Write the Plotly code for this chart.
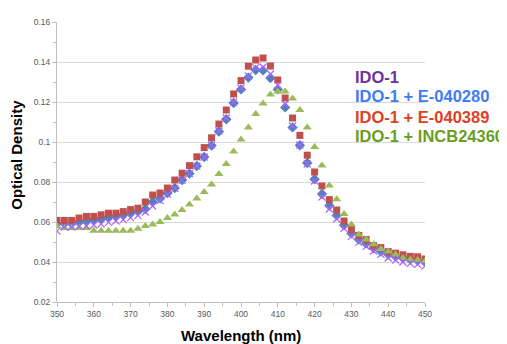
import plotly.graph_objects as go

wavelength = list(range(350, 451, 2))

ido1 = [0.0554, 0.0575, 0.0575, 0.0578, 0.0580, 0.0585, 0.0590, 0.0598, 0.0605, 0.0612,
        0.0622, 0.0633, 0.0650, 0.0680, 0.0707, 0.0738, 0.0768, 0.0808, 0.0842, 0.0880,
        0.0925, 0.0985, 0.1055, 0.1120, 0.1200, 0.1270, 0.1330, 0.1372, 0.1375, 0.1340,
        0.1285, 0.1190, 0.1080, 0.0985, 0.0890, 0.0805, 0.0725, 0.0665, 0.0615, 0.0568,
        0.0528, 0.0498, 0.0478, 0.0455, 0.0438, 0.0420, 0.0410, 0.0400, 0.0393, 0.0388,
        0.0380]

e040280 = [0.0592, 0.0592, 0.0592, 0.0600, 0.0605, 0.0611, 0.0616, 0.0625, 0.0628, 0.0636,
           0.0644, 0.0652, 0.0665, 0.0700, 0.0718, 0.0745, 0.0770, 0.0810, 0.0842, 0.0880,
           0.0925, 0.0982, 0.1052, 0.1114, 0.1195, 0.1263, 0.1322, 0.1360, 0.1358, 0.1320,
           0.1263, 0.1173, 0.1073, 0.0984, 0.0895, 0.0814, 0.0740, 0.0682, 0.0633, 0.0584,
           0.0543, 0.0512, 0.0493, 0.0470, 0.0452, 0.0437, 0.0428, 0.0420, 0.0412, 0.0407,
           0.0400]

e040389 = [0.0608, 0.0608, 0.0608, 0.0620, 0.0628, 0.0628, 0.0636, 0.0644, 0.0644, 0.0652,
           0.0662, 0.0669, 0.0700, 0.0735, 0.0745, 0.0770, 0.0810, 0.0844, 0.0882, 0.0926,
           0.0972, 0.1021, 0.1090, 0.1160, 0.1240, 0.1307, 0.1379, 0.1410, 0.1420, 0.1380,
           0.1310, 0.1220, 0.1120, 0.1033, 0.0934, 0.0850, 0.0780, 0.0712, 0.0660, 0.0605,
           0.0563, 0.0533, 0.0512, 0.0482, 0.0472, 0.0452, 0.0444, 0.0436, 0.0428, 0.0426,
           0.0415]

incb24360 = [0.0580, 0.0570, 0.0570, 0.0570, 0.0570, 0.0556, 0.0556, 0.0556, 0.0556, 0.0556,
             0.0556, 0.0566, 0.0580, 0.0588, 0.0600, 0.0620, 0.0637, 0.0660, 0.0687, 0.0718,
             0.0750, 0.0788, 0.0840, 0.0890, 0.0952, 0.1012, 0.1072, 0.1140, 0.1193, 0.1238,
             0.1253, 0.1252, 0.1218, 0.1160, 0.1072, 0.0975, 0.0882, 0.0782, 0.0714, 0.0640,
             0.0587, 0.0538, 0.0512, 0.0489, 0.0465, 0.0452, 0.0437, 0.0420, 0.0412, 0.0410,
             0.0405]

legend_labels = ["IDO-1", "IDO-1 + E-040280", "IDO-1 + E-040389", "IDO-1 + INCB24360"]
legend_colors = ["#7030A0", "#3D7CF5", "#E0401E", "#6A9E1F"]

fig = go.Figure()
fig.add_trace(go.Scatter(x=wavelength, y=e040280, mode="markers", name=legend_labels[1],
                         marker=dict(symbol="diamond", size=8, color="#4F81BD")))
fig.add_trace(go.Scatter(x=wavelength, y=e040389, mode="markers", name=legend_labels[2],
                         marker=dict(symbol="square", size=7, color="#C0504D")))
fig.add_trace(go.Scatter(x=wavelength, y=incb24360, mode="markers", name=legend_labels[3],
                         marker=dict(symbol="triangle-up", size=8, color="#9BBB59")))
fig.add_trace(go.Scatter(x=wavelength, y=ido1, mode="markers", name=legend_labels[0],
                         marker=dict(symbol="x-thin-open", size=7,
                                     line=dict(color="#8064A2", width=1.2))))

tickfont = dict(family="Liberation Sans, Arial, sans-serif", size=8.5, color="#595959")

fig.update_xaxes(range=[350, 450], dtick=10, tick0=350, showgrid=False, zeroline=False,
                 showline=True, linecolor="#BFBFBF", linewidth=1,
                 ticks="outside", ticklen=4, tickcolor="#BFBFBF", tickfont=tickfont,
                 minor=dict(dtick=5, ticks="outside", ticklen=3, tickcolor="#BFBFBF", showgrid=False))
fig.update_yaxes(range=[0.02, 0.16], dtick=0.02, tick0=0.02, showgrid=True, gridcolor="#D9D9D9",
                 gridwidth=1, zeroline=False, showline=True, linecolor="#BFBFBF", linewidth=1,
                 ticks="outside", ticklen=4, tickcolor="#BFBFBF", tickfont=tickfont,
                 minor=dict(dtick=0.01, ticks="outside", ticklen=3, tickcolor="#BFBFBF", showgrid=False))

annotations = [
    dict(text="<b>Wavelength (nm)</b>", xref="paper", yref="paper", x=0.5, y=0,
         yanchor="middle", yshift=-33, showarrow=False,
         font=dict(family="Liberation Sans, Arial, sans-serif", size=15, color="black")),
    dict(text="<b>Optical Density</b>", xref="paper", yref="paper", x=0, y=0.526,
         xanchor="center", xshift=-40, textangle=-90, showarrow=False,
         font=dict(family="Liberation Sans, Arial, sans-serif", size=15, color="black")),
]
leg_y = [0.8046, 0.7344, 0.662, 0.592]
for lbl, col, yy in zip(legend_labels, legend_colors, leg_y):
    annotations.append(dict(text="<b>" + lbl + "</b>", xref="paper", yref="paper",
                            x=0.804, y=yy, xanchor="left", yanchor="middle", showarrow=False,
                            font=dict(family="Liberation Sans, Arial, sans-serif", size=16.5, color=col)))

# The page body adds an 8px offset; size the figure so the plot area lands where the reference has it.
fig.update_layout(width=499, height=336, margin=dict(l=49, r=82, t=9, b=42),
                  paper_bgcolor="white", plot_bgcolor="white", showlegend=False,
                  annotations=annotations)

fig.write_html("out.html")
